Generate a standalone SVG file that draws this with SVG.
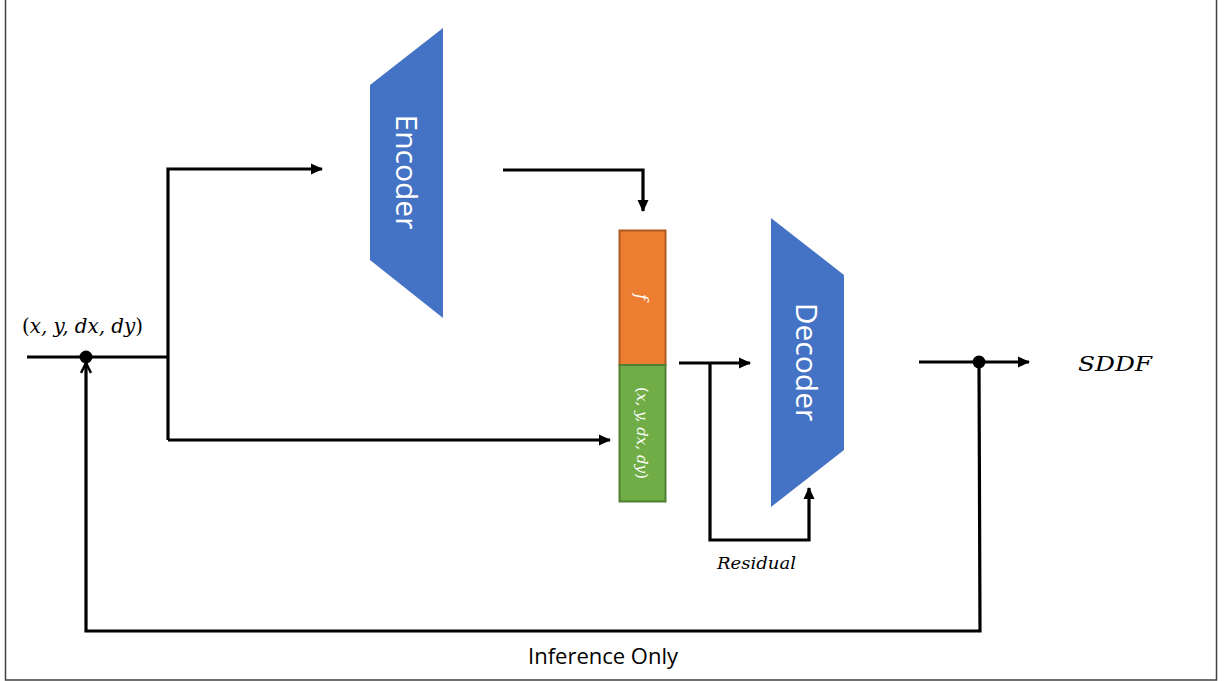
<svg xmlns="http://www.w3.org/2000/svg" width="1224" height="681" viewBox="0 0 1224 681">
<defs>
<style>
.ln{fill:none;stroke:#000;stroke-width:3.2;stroke-linejoin:miter}
.blk{fill:#4472C4}
.math{font-family:"DejaVu Serif","Liberation Serif",serif;font-style:italic}
.up{font-style:normal}
.lbl{font-family:"Open Sans","Liberation Sans",sans-serif;fill:#fff}
</style>
<marker id="ah" viewBox="0 0 12 12" refX="11" refY="6" markerWidth="12" markerHeight="12" markerUnits="userSpaceOnUse" orient="auto">
<path d="M0,0.5 L12,6 L0,11.5 Z" fill="#000"/>
</marker>
<marker id="oh" viewBox="0 0 12 12" refX="11" refY="6" markerWidth="12" markerHeight="12" markerUnits="userSpaceOnUse" orient="auto">
<path d="M1,1 L11,6 L1,11" fill="none" stroke="#000" stroke-width="2.5"/>
</marker>
</defs>
<rect x="0" y="0" width="1224" height="681" fill="#fff"/>
<rect x="5.5" y="-2" width="1211" height="682" fill="none" stroke="#404040" stroke-width="1.5"/>

<g id="encoder">
<polygon class="blk" points="370,85 443,28 443,318 370,260"/>
<text class="lbl" font-size="30" transform="translate(407,172) rotate(90)" text-anchor="middle" dominant-baseline="central">Encoder</text>
</g>

<g id="decoder">
<polygon class="blk" points="771,218 844,275 844,450 771,507"/>
<text class="lbl" font-size="30" transform="translate(807,362) rotate(90)" text-anchor="middle" dominant-baseline="central">Decoder</text>
</g>

<g id="feature">
<rect x="619.5" y="230.5" width="46" height="134.5" fill="#ED7D31" stroke="#AE5A21" stroke-width="2"/>
<text class="math" font-size="17" fill="#fff" transform="translate(642,297) rotate(90)" text-anchor="middle" dominant-baseline="central">f</text>
</g>

<g id="coords">
<rect x="619.5" y="365" width="46" height="136.5" fill="#70AD47" stroke="#507E32" stroke-width="2"/>
<text class="math" font-size="15" fill="#fff" transform="translate(596,433) rotate(90)" text-anchor="middle" dominant-baseline="central" x="0" y="-46" textLength="92" lengthAdjust="spacingAndGlyphs"><tspan class="up">(</tspan>x, y, dx, dy<tspan class="up">)</tspan></text>
</g>

<g id="input-label">
<text class="math" font-size="20" x="22" y="333" textLength="121" lengthAdjust="spacingAndGlyphs"><tspan class="up">(</tspan>x, y, dx, dy<tspan class="up">)</tspan></text>
</g>
<g id="output-label">
<text class="math" font-size="21" x="1078" y="371" textLength="74" lengthAdjust="spacingAndGlyphs">SDDF</text>
</g>
<g id="residual-label">
<text class="math" font-size="16" x="717" y="569" textLength="79" lengthAdjust="spacingAndGlyphs">Residual</text>
</g>
<g id="inference-label">
<text font-family="'Open Sans','Liberation Sans',sans-serif" font-size="21" x="528" y="664" textLength="150" lengthAdjust="spacingAndGlyphs" fill="#000">Inference Only</text>
</g>

<g id="connectors">
<path class="ln" d="M27,357 H168"/>
<path class="ln" d="M168,440 V169 H322" marker-end="url(#ah)"/>
<path class="ln" d="M168,440 H610" marker-end="url(#ah)"/>
<path class="ln" d="M503,170 H643 V211" marker-end="url(#ah)"/>
<path class="ln" d="M679,363 H750" marker-end="url(#ah)"/>
<path class="ln" d="M710,363 V540 H809 V488" marker-end="url(#ah)"/>
<path class="ln" d="M919,362 H1029" marker-end="url(#ah)"/>
<path class="ln" d="M979,362 L980,631 H86 V363" marker-end="url(#oh)"/>
<circle cx="86" cy="357" r="6.5" fill="#000"/>
<circle cx="979" cy="362" r="6.5" fill="#000"/>
</g>
</svg>
